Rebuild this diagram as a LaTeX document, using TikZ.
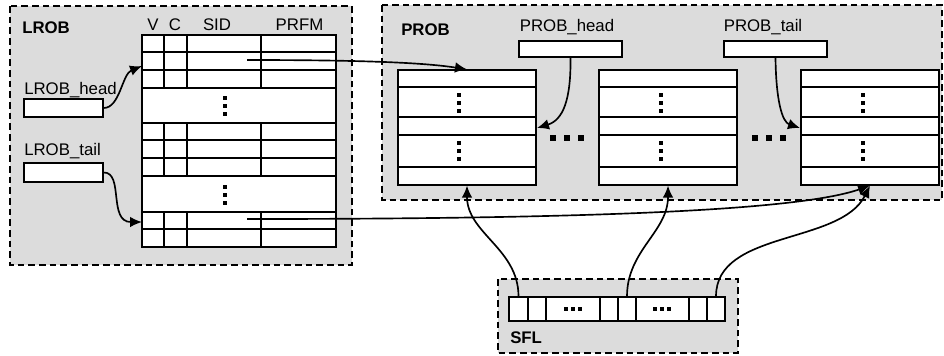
\documentclass[tikz,border=0pt]{standalone}
\usepackage{fontspec}
\setmainfont{Liberation Sans}
\usetikzlibrary{arrows.meta,fit}
\definecolor{bg}{RGB}{220,220,220}
\newcommand\vdd[2]{\foreach \dy in {-8,0,8}{\fill (#1-1.7,#2+\dy-1.7) rectangle (#1+1.7,#2+\dy+1.7);}}
\newcommand\hdd[2]{\foreach \dx in {-14,0,14}{\fill (#1+\dx-2.6,#2-2.6) rectangle (#1+\dx+2.6,#2+2.6);}}
\newcommand\sdd[2]{\foreach \dx in {-7,0,7}{\fill (#1+\dx-1.7,#2-1.7) rectangle (#1+\dx+1.7,#2+1.7);}}
\begin{document}
\begin{tikzpicture}[x=0.75pt,y=-0.75pt,
  frame/.style={draw, dash pattern=on 5pt off 3pt, fill=bg, line width=0.9pt},
  box/.style={draw, fill=white, line width=0.95pt, inner sep=0pt, fit={#1}},
  lbl/.style={inner sep=0pt, font=\fontsize{12.6}{14}\selectfont},
  blbl/.style={lbl, font=\fontsize{12.6}{14}\selectfont\bfseries},
  tl/.style={line width=0.95pt},
  arr/.style={line width=1.25pt, -{Latex[length=9pt,width=8pt]}}]
\useasboundingbox (0,0) rectangle (944,355);
% frames
\path[frame] (10,6) rectangle (352,265);
\path[frame] (382,5) rectangle (942,200);
\path[frame] (498,279) rectangle (738,353);
\node[blbl, anchor=west] (lroblbl) at (22,28) {LROB};
\node[blbl, anchor=west] (problbl) at (401,30) {PROB};
\node[blbl, anchor=west] (sfllbl) at (510,338) {SFL};
% LROB table
\node[box={(142,35) (336,247)}] (lrob) {};
\foreach \y in {52,70,88,123,140,158,176,212,229} \draw[tl] (142,\y) -- (336,\y);
\foreach \x in {164,187,261} {
  \draw[tl] (\x,35) -- (\x,88);
  \draw[tl] (\x,123) -- (\x,176);
  \draw[tl] (\x,212) -- (\x,247);
}
\vdd{225}{106}
\vdd{225}{195}
\node[lbl] (hv) at (153,25) {V};
\node[lbl] (hc) at (175,25) {C};
\node[lbl] (hs) at (217,25) {SID};
\node[lbl] (hp) at (299.5,25) {PRFM};
% LROB pointers
\node[lbl, anchor=west] (lhl) at (24,90) {LROB\_head};
\node[box={(24,99) (103,117)}] (lh) {};
\node[lbl, anchor=west] (ltl) at (24,151) {LROB\_tail};
\node[box={(24,163) (103,182)}] (lt) {};
\coordinate (lrIn1) at (142,66);
\coordinate (lrIn2) at (142,222);
\coordinate (lrA) at (247,60);
\coordinate (lrB) at (247,219);
% PROB entries
\foreach \n/\xa/\xb/\xd in {e1/398/536/459, e2/599/737/661, e3/801/939/863} {
  \node[box={(\xa,70) (\xb,185)}] (\n) {};
  \foreach \y in {87,117,135,167} \draw[tl] (\xa,\y) -- (\xb,\y);
  \vdd{\xd}{103}
  \vdd{\xd}{151}
}
\hdd{567}{138}
\hdd{769}{138}
\node[lbl] (phl) at (567,27) {PROB\_head};
\node[box={(519,41) (622,57)}] (ph) {};
\node[lbl] (ptl) at (763,27) {PROB\_tail};
\node[box={(724,41) (827,57)}] (pt) {};
\coordinate (e1r) at (537,128);
\coordinate (e3l) at (800,128);
% SFL cells
\foreach \n/\xa/\xb in {c1/509/528, c2/528/546, c3/546/600, c4/600/618, c5/618/636, c6/636/689, c7/689/707, c8/707/725} {
  \node[box={(\xa,297) (\xb,321)}] (\n) {};
}
\sdd{573}{309}
\sdd{662}{309}
% arrows
\draw[arr] (lh.east) .. controls (120,108) and (122,74) .. (lrIn1);
\draw[arr] (lt.east) .. controls (124,172) and (108,222) .. (lrIn2);
\draw[arr] (lrA) .. controls (350,60) and (420,62) .. (e1.north);
\draw[arr] (lrB) .. controls (600,219) and (800,210) .. (e3.south);
\draw[arr] (ph.south) .. controls (571,100) and (563,120) .. (e1r);
\draw[arr] (pt.south) .. controls (776,100) and (782,122) .. (e3l);
\draw[arr] (c1.north) to[out=90,in=-90] (e1.south);
\draw[arr] (c5.north) to[out=90,in=-90] (e2.south);
\draw[arr] (c8.north) .. controls (716,230) and (840,245) .. (e3.south);
\end{tikzpicture}
\end{document}
